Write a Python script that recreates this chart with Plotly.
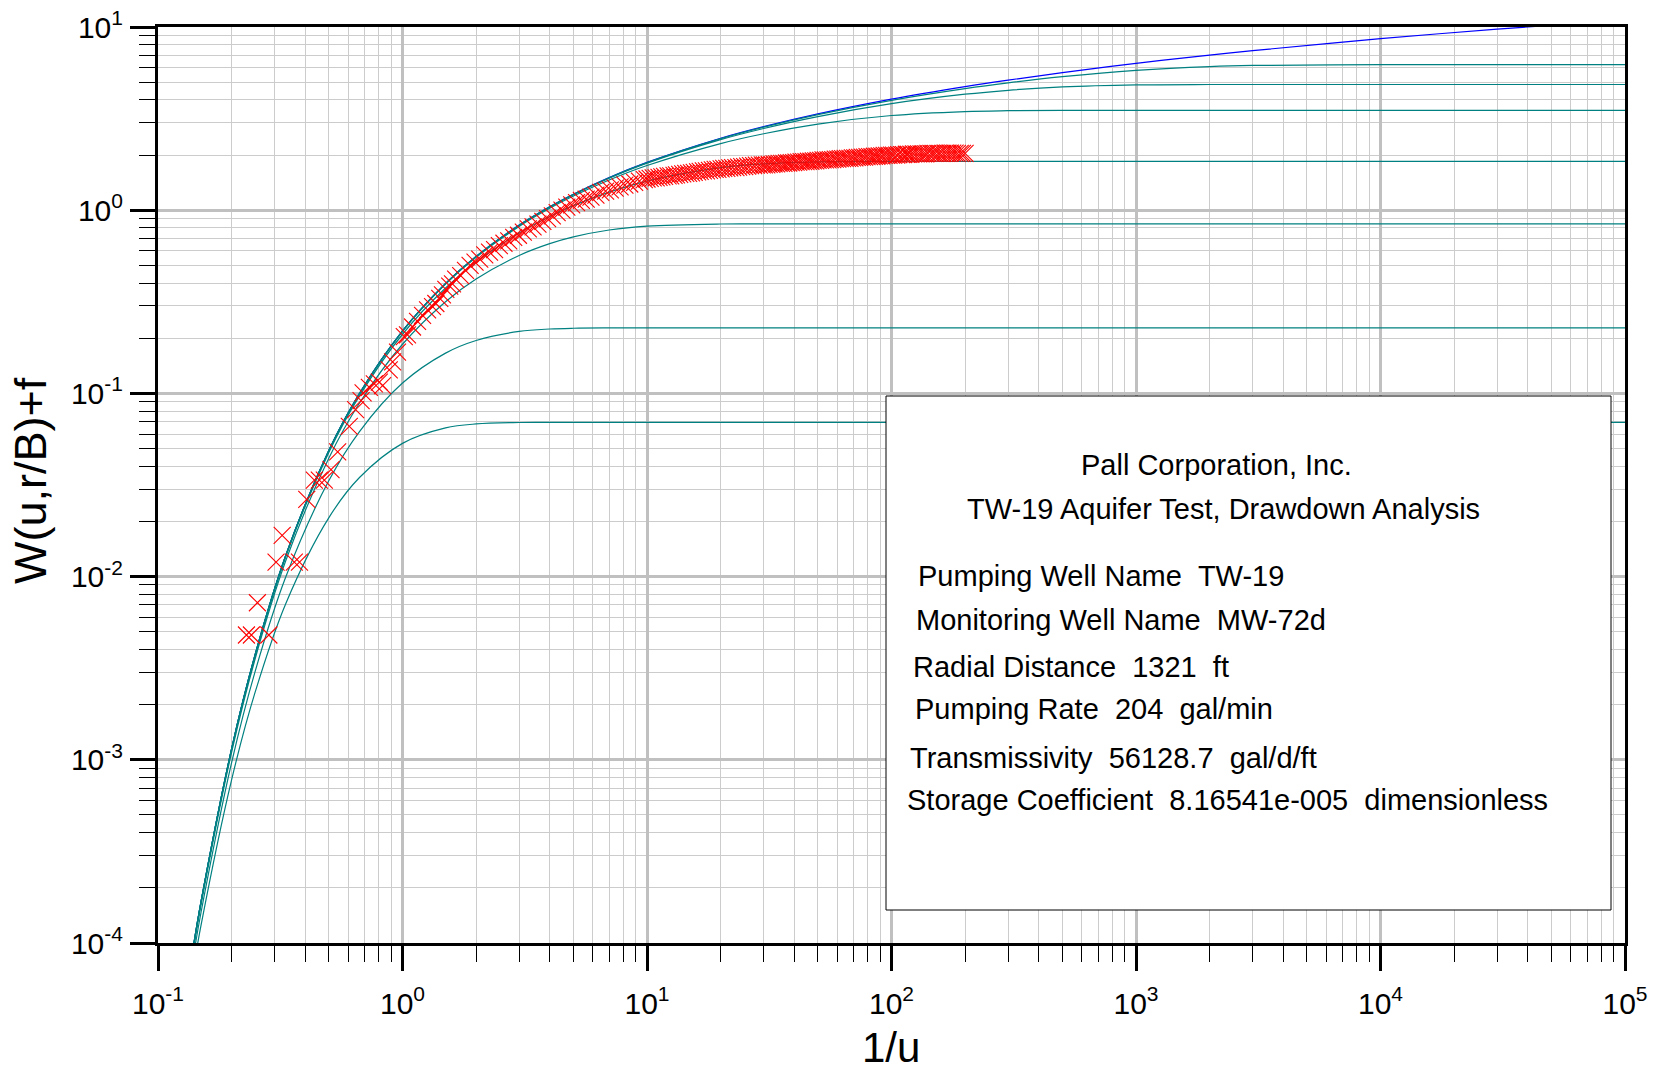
import plotly.graph_objects as go

# ---------------- type curves ----------------
curve_x = [0.14, 0.15, 0.2, 0.25, 0.333, 0.5, 0.667, 1, 1.5, 2, 3, 4, 5, 7, 10,
           20, 30, 50, 100, 200, 300, 500, 1000, 2000, 3000, 10000, 30000, 100000]

theis_w = [9.83e-5, 1.683e-4, 1.148e-3, 3.779e-3, 1.305e-2, 4.890e-2, 0.1000, 0.2194,
           0.3985, 0.5598, 0.8291, 1.0443, 1.2227, 1.5067, 1.8229, 2.4679, 2.857, 3.3547,
           4.0379, 4.7261, 5.1299, 5.6394, 6.3315, 7.0242, 7.4295, 8.6332, 9.7318, 10.9357]

leaky_rb_005 = [9.83e-5, 1.683e-4, 1.148e-3, 3.779e-3, 1.305e-2, 4.890e-2, 0.1000, 0.2194,
                0.3984, 0.5597, 0.8286, 1.0436, 1.2218, 1.504, 1.818, 2.458, 2.841, 3.326,
                3.979, 4.608, 4.954, 5.353, 5.796, 6.082, 6.170, 6.228, 6.228, 6.228]

leaky_rb_01 = [9.83e-5, 1.683e-4, 1.148e-3, 3.778e-3, 1.304e-2, 4.887e-2, 0.0999, 0.2190,
               0.3976, 0.5582, 0.8258, 1.0391, 1.2155, 1.4953, 1.8049, 2.4271, 2.793, 3.244,
               3.815, 4.296, 4.514, 4.708, 4.829, 4.853, 4.854, 4.854, 4.854, 4.854]

leaky_rb_02 = [9.82e-5, 1.682e-4, 1.147e-3, 3.775e-3, 1.301e-2, 4.870e-2, 0.0995, 0.2179,
               0.3948, 0.5533, 0.8160, 1.0238, 1.1944, 1.4620, 1.7527, 2.311, 2.615, 2.952,
               3.287, 3.456, 3.492, 3.504, 3.505, 3.505, 3.505, 3.505, 3.505, 3.505]

leaky_rb_05 = [9.75e-5, 1.669e-4, 1.1358e-3, 3.7294e-3, 1.2826e-2, 4.774e-2, 0.09702, 0.21031,
               0.37605, 0.52065, 0.75136, 0.9244, 1.0592, 1.2550, 1.4422, 1.7075, 1.7921, 1.8379,
               1.8486, 1.8488, 1.8488, 1.8488, 1.8488, 1.8488, 1.8488, 1.8488, 1.8488, 1.8488]

leaky_rb_1 = [9.53e-5, 1.627e-4, 1.0996e-3, 3.5849e-3, 1.2192e-2, 4.4436e-2, 0.08859, 0.18547,
              0.31675, 0.42102, 0.56614, 0.65655, 0.71482, 0.77958, 0.81900, 0.84092, 0.84195,
              0.84202, 0.84202, 0.84202, 0.84202, 0.84202, 0.84202, 0.84202, 0.84202, 0.84202,
              0.84202, 0.84202]

leaky_rb_2 = [8.68e-5, 1.472e-4, 9.655e-4, 3.0604e-3, 9.952e-3, 3.343e-2, 0.061908, 0.11389,
              0.16587, 0.19435, 0.21783, 0.22472, 0.22681, 0.22768, 0.22778, 0.22778, 0.22778,
              0.22778, 0.22778, 0.22778, 0.22778, 0.22778, 0.22778, 0.22778, 0.22778, 0.22778,
              0.22778, 0.22778]

leaky_rb_3 = [7.418e-5, 1.2527e-4, 7.78e-4, 2.3538e-3, 7.116e-3, 2.099e-2, 0.03474, 0.053365,
              0.064774, 0.068126, 0.069363, 0.06945, 0.069478, 0.069478, 0.069478, 0.069478,
              0.069478, 0.069478, 0.069478, 0.069478, 0.069478, 0.069478, 0.069478, 0.069478,
              0.069478, 0.069478, 0.069478, 0.069478]

leaky_curves = [leaky_rb_005, leaky_rb_01, leaky_rb_02, leaky_rb_05, leaky_rb_1, leaky_rb_2, leaky_rb_3]

# ---------------- observed data (1/u, W) ----------------
data_x = [
    0.230, 0.241, 0.255, 0.284, 0.304, 0.322, 0.361, 0.379, 0.406, 0.436,
    0.457, 0.479, 0.510, 0.543, 0.606, 0.643, 0.677, 0.690, 0.732, 0.767,
    0.804, 0.829, 0.883, 0.911, 0.954, 1.017, 1.048, 1.099, 1.152, 1.208,
    1.266, 1.327, 1.369, 1.420, 1.457, 1.504, 1.560, 1.601,
    1.65, 1.73, 1.81, 1.89, 1.98, 2.07, 2.17, 2.27, 2.38, 2.49,
    2.60, 2.72, 2.85, 2.98, 3.12, 3.27, 3.42, 3.58, 3.75, 3.92,
    4.10, 4.29, 4.49, 4.70, 4.92, 5.15, 5.39, 5.64, 5.90, 6.18,
    6.47, 6.77, 7.08, 7.41, 7.76, 8.12, 8.50, 8.90, 9.31, 9.75,
    10.0, 10.3, 10.6, 10.9, 11.2, 11.5, 11.8, 12.2, 12.5, 12.9,
    13.2, 13.6, 14.0, 14.4, 14.8, 15.2, 15.6, 16.1, 16.5, 17.0,
    17.5, 18.0, 18.5, 19.0, 19.5, 20.1, 20.6, 21.2, 21.8, 22.4,
    23.1, 23.7, 24.4, 25.1, 25.8, 26.5, 27.3, 28.0, 28.8, 29.6,
    30.2, 30.9, 31.6, 32.4, 33.1, 33.9, 34.7, 35.5, 36.3, 37.2,
    38.0, 38.9, 39.8, 40.7, 41.7, 42.7, 43.7, 44.7, 45.7, 46.8,
    47.9, 49.0, 50.1, 51.3, 52.5, 53.7, 55.0, 56.2, 57.5, 58.9,
    60.3, 61.7, 63.1, 64.6, 66.1, 67.6, 69.2, 70.8, 72.4, 74.1,
    75.9, 77.6, 79.4, 81.3, 83.2, 85.1, 87.1, 89.1, 91.2, 93.3,
    95.5, 97.7, 100, 102, 105, 107, 110, 112, 115, 117,
    120, 123, 126, 129, 132, 135, 138, 141, 145, 148,
    151, 155, 158, 162, 166, 170, 174, 178, 182, 186,
    191, 195, 200,
]
data_y = [
    0.0048, 0.0048, 0.0072, 0.0048, 0.0120, 0.0168, 0.0120, 0.0120, 0.0264, 0.0336,
    0.0336, 0.0336, 0.0384, 0.0480, 0.0660, 0.0816, 0.0912, 0.1008, 0.1080, 0.1128,
    0.1152, 0.1104, 0.1344, 0.1488, 0.1680, 0.2040, 0.2088, 0.2304, 0.2472, 0.2664,
    0.2856, 0.2976, 0.3096, 0.3300, 0.3450, 0.3700, 0.3850, 0.3960,
    0.42, 0.44, 0.47, 0.50, 0.52, 0.54, 0.57, 0.59, 0.61, 0.64,
    0.66, 0.68, 0.71, 0.73, 0.76, 0.79, 0.81, 0.84, 0.87, 0.90,
    0.93, 0.97, 1.00, 1.04, 1.07, 1.10, 1.13, 1.15, 1.18, 1.21,
    1.25, 1.27, 1.29, 1.32, 1.34, 1.37, 1.39, 1.42, 1.44, 1.47,
    1.48, 1.49, 1.50, 1.50, 1.51, 1.52, 1.53, 1.54, 1.54, 1.55,
    1.56, 1.57, 1.58, 1.59, 1.59, 1.60, 1.61, 1.62, 1.63, 1.64,
    1.64, 1.65, 1.66, 1.67, 1.67, 1.68, 1.69, 1.69, 1.70, 1.71,
    1.71, 1.72, 1.73, 1.73, 1.74, 1.75, 1.75, 1.76, 1.76, 1.77,
    1.77, 1.77, 1.78, 1.78, 1.79, 1.79, 1.80, 1.80, 1.80, 1.81,
    1.81, 1.82, 1.82, 1.83, 1.83, 1.84, 1.84, 1.84, 1.85, 1.85,
    1.86, 1.86, 1.87, 1.87, 1.88, 1.88, 1.88, 1.89, 1.89, 1.90,
    1.90, 1.91, 1.91, 1.92, 1.92, 1.92, 1.93, 1.93, 1.94, 1.94,
    1.95, 1.95, 1.96, 1.96, 1.96, 1.97, 1.97, 1.98, 1.98, 1.99,
    1.99, 1.99, 2.00, 2.00, 2.00, 2.01, 2.01, 2.01, 2.02, 2.02,
    2.02, 2.03, 2.03, 2.03, 2.03, 2.03, 2.03, 2.04, 2.04, 2.04,
    2.04, 2.04, 2.04, 2.04, 2.05, 2.05, 2.05, 2.05, 2.05, 2.04,
    2.04, 2.04, 2.04,
]

# ---------------- axis ticks ----------------
x_major = [0.1, 1, 10, 100, 1000, 10000, 100000]
x_labels = ["10<sup>-1</sup>", "10<sup>0</sup>", "10<sup>1</sup>", "10<sup>2</sup>",
            "10<sup>3</sup>", "10<sup>4</sup>", "10<sup>5</sup>"]
y_major = [1e-4, 1e-3, 1e-2, 1e-1, 1, 10]
y_labels = ["10<sup>-4</sup>", "10<sup>-3</sup>", "10<sup>-2</sup>", "10<sup>-1</sup>",
            "10<sup>0</sup>", "10<sup>1</sup>"]
x_minor = [m * 10.0 ** e for e in range(-1, 5) for m in range(2, 10)]
y_minor = [m * 10.0 ** e for e in range(-4, 1) for m in range(2, 10)]

info_title = ["Pall Corporation, Inc.", "TW-19 Aquifer Test, Drawdown Analysis"]
info_lines = [
    "Pumping Well Name  TW-19",
    "Monitoring Well Name  MW-72d",
    "Radial Distance  1321  ft",
    "Pumping Rate  204  gal/min",
    "Transmissivity  56128.7  gal/d/ft",
    "Storage Coefficient  8.16541e-005  dimensionless",
]

FONT = "Liberation Sans, Arial, Helvetica, sans-serif"

fig = go.Figure()
fig.add_trace(go.Scatter(x=curve_x, y=theis_w, mode="lines",
                         line=dict(color="#0000ff", width=1.2, shape="spline"),
                         name="Theis", hoverinfo="skip"))
for w in leaky_curves:
    fig.add_trace(go.Scatter(x=curve_x, y=w, mode="lines",
                             line=dict(color="#008080", width=1.2, shape="spline"),
                             hoverinfo="skip"))
fig.add_trace(go.Scatter(x=data_x, y=data_y, mode="markers",
                         marker=dict(symbol="x-thin", size=17, color="#ff0000",
                                     line=dict(color="#ff0000", width=1.1)),
                         name="data"))

axis_common = dict(
    type="log", tickmode="array", ticks="outside", ticklen=25, tickwidth=3,
    tickcolor="black", showline=True, linewidth=3, linecolor="black", mirror=True,
    showgrid=True, gridcolor="#c0c0c0", gridwidth=2.5, zeroline=False, automargin=False,
    tickfont=dict(size=30, family=FONT, color="black"),
)
fig.update_xaxes(range=[-1, 5], tickvals=x_major, ticktext=x_labels, ticklabelstandoff=7,
                 minor=dict(tickmode="array", tickvals=x_minor, ticks="outside", ticklen=16,
                            tickwidth=1, tickcolor="black", showgrid=True,
                            gridcolor="#cccccc", gridwidth=1),
                 **axis_common)
fig.update_yaxes(range=[-4, 1], tickvals=y_major, ticktext=y_labels, ticklabelstandoff=1,
                 minor=dict(tickmode="array", tickvals=y_minor, ticks="outside", ticklen=16,
                            tickwidth=1, tickcolor="black", showgrid=True,
                            gridcolor="#cccccc", gridwidth=1),
                 **axis_common)

# plot area: x 158..1625, y 27..943
PL, PR, PT, PB = 158, 1625, 27, 943


def px_x(p):
    return (p - PL) / float(PR - PL)


def px_y(p):
    return (PB - p) / float(PB - PT)


annotations = [
    dict(text="1/u", x=px_x(891), y=px_y(1047), xref="paper", yref="paper",
         showarrow=False, xanchor="center", yanchor="middle",
         font=dict(size=42, family=FONT, color="black")),
    dict(text="W(u,r/B)+f", x=px_x(30), y=px_y(481), xref="paper", yref="paper",
         showarrow=False, xanchor="center", yanchor="middle", textangle=-90,
         font=dict(size=45, family=FONT, color="black")),
]
title_pos = [(1216, 465), (1223, 509)]
for t, (cx, cy) in zip(info_title, title_pos):
    annotations.append(dict(text=t, x=px_x(cx), y=px_y(cy), xref="paper", yref="paper",
                            showarrow=False, xanchor="center", yanchor="middle",
                            font=dict(size=29, family=FONT, color="black")))
line_pos = [(916, 576), (914, 620), (911, 667), (913, 709), (908, 758), (905, 800)]
for t, (lx, ly) in zip(info_lines, line_pos):
    annotations.append(dict(text=t.replace("  ", "\u00a0\u00a0"), x=px_x(lx), y=px_y(ly),
                            xref="paper", yref="paper", showarrow=False,
                            xanchor="left", yanchor="middle",
                            font=dict(size=29, family=FONT, color="black")))

fig.update_layout(
    width=1654, height=1072,
    margin=dict(l=PL, r=1654 - PR, t=PT, b=1072 - PB),
    paper_bgcolor="white", plot_bgcolor="white",
    showlegend=False,
    font=dict(family=FONT, color="black"),
    shapes=[dict(type="rect", xref="paper", yref="paper",
                 x0=px_x(886), x1=px_x(1611), y0=px_y(910), y1=px_y(396),
                 fillcolor="white", line=dict(color="black", width=1), layer="above")],
    annotations=annotations,
)

fig.write_html("out.html")
